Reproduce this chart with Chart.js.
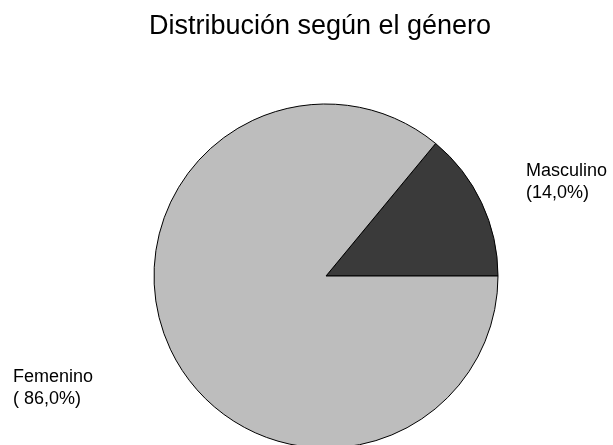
<!DOCTYPE html>
<html>
<head>
<meta charset="utf-8">
<script src="https://cdn.jsdelivr.net/npm/chart.js@4.4.1/dist/chart.umd.min.js"></script>
<style>
  html, body { margin: 0; padding: 0; background: #fff; }
  #wrap { width: 613px; height: 445px; }
</style>
</head>
<body>
<div id="wrap"><canvas id="mainChart"></canvas></div>
<script>
const chartTitle = "Distribución según el género";
const labels = ["Masculino", "Femenino"];
const values = [14.0, 86.0];
const colors = ["#3a3a3a", "#bdbdbd"];

/* titles and slice labels */
const textPlugin = {
  id: "texts",
  afterDraw(chart) {
    const c = chart.ctx;
    const arc = chart.getDatasetMeta(0).data[0];
    const cx = arc.x, cy = arc.y, r = arc.outerRadius;
    c.save();
    c.fillStyle = "#000";
    c.font = "27px 'Liberation Sans', Arial, sans-serif";
    c.textAlign = "center";
    c.textBaseline = "alphabetic";
    c.fillText(chartTitle, cx - 6, 34);

    c.font = "18px 'Liberation Sans', Arial, sans-serif";
    c.textAlign = "left";
    const pct = v => v.toFixed(1).replace(".", ",") + "%";
    // Masculino, right of the pie
    c.fillText(labels[0], cx + r + 28, cy - 100);
    c.fillText("(" + pct(values[0]) + ")", cx + r + 28, cy - 78);
    // Femenino, left of the pie
    c.fillText(labels[1], 13, cy + 106);
    c.fillText("( " + pct(values[1]) + ")", 13, cy + 128);
    c.restore();
  }
};

new Chart(document.getElementById("mainChart"), {
  type: "pie",
  data: {
    labels: labels,
    datasets: [{
      data: values,
      backgroundColor: colors,
      borderColor: "#000",
      borderWidth: 1,
      radius: 172,
      clip: false
    }]
  },
  options: {
    responsive: true,
    maintainAspectRatio: false,
    animation: false,
    rotation: 39.6,
    layout: { padding: { left: 154, right: 115, top: 107, bottom: 0 } },
    plugins: {
      legend: { display: false },
      title: { display: false },
      tooltip: { enabled: false }
    }
  },
  plugins: [textPlugin]
});
</script>
</body>
</html>
